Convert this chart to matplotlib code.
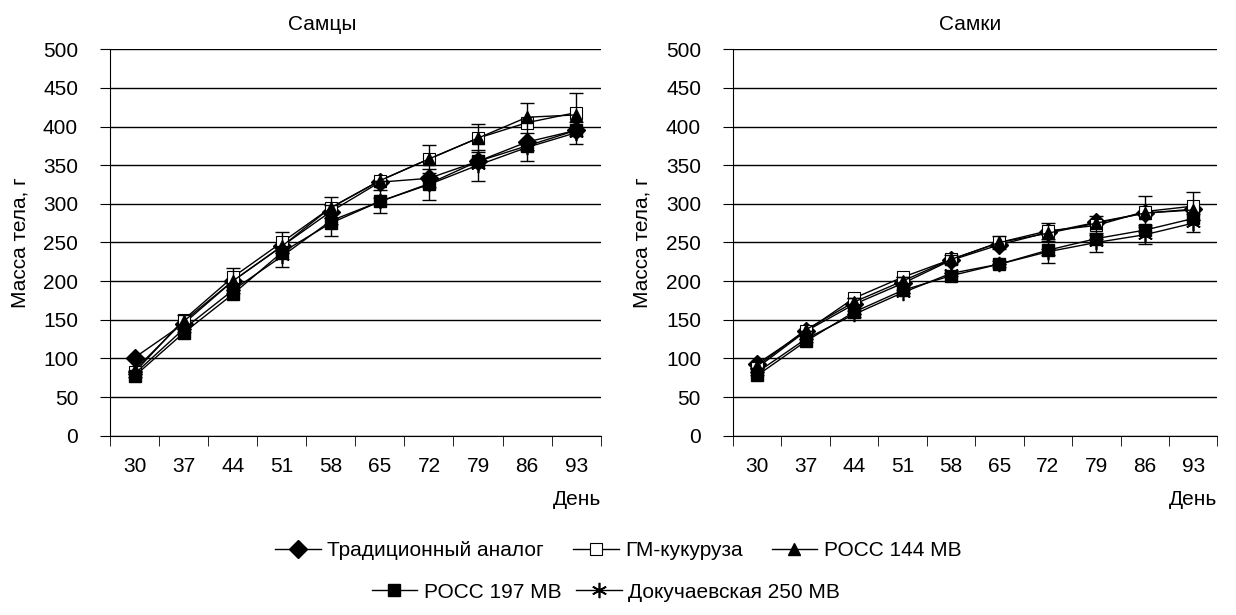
import matplotlib.pyplot as plt
from matplotlib.lines import Line2D

plt.rcParams['font.family'] = ['Liberation Sans', 'DejaVu Sans']

days = ['30', '37', '44', '51', '58', '65', '72', '79', '86', '93']
names = ['Традиционный аналог', 'ГМ-кукуруза', 'РОСС 144 МВ', 'РОСС 197 МВ', 'Докучаевская 250 МВ']

# самцы
m_trad = [101, 145, 200, 245, 290, 328, 333, 355, 380, 395]
m_gm = [82, 150, 205, 250, 295, 330, 358, 385, 405, 418]
m_r144 = [85, 148, 200, 245, 295, 330, 358, 385, 412, 415]
m_r197 = [77, 133, 183, 237, 275, 303, 326, 355, 375, 395]
m_dok = [80, 138, 188, 232, 278, 303, 325, 350, 373, 392]
m_err_gm = [0, 6, 12, 14, 14, 0, 18, 18, 25, 25]
m_err_dok = [0, 0, 0, 14, 20, 15, 20, 20, 18, 14]

# самки
f_trad = [93, 135, 170, 197, 227, 247, 263, 276, 288, 293]
f_gm = [88, 135, 178, 205, 228, 250, 265, 272, 290, 297]
f_r144 = [90, 137, 173, 200, 228, 250, 262, 275, 288, 292]
f_r197 = [78, 122, 160, 188, 207, 222, 240, 255, 266, 281]
f_dok = [82, 125, 157, 185, 210, 222, 238, 250, 260, 275]
f_err_gm = [0, 0, 0, 0, 6, 8, 10, 12, 20, 18]
f_err_dok = [0, 0, 0, 0, 0, 0, 14, 12, 12, 12]

styles = [
    dict(marker='D', ms=9, mfc='black', mec='black'),
    dict(marker='s', ms=9, mfc='white', mec='black', mew=0.8),
    dict(marker='^', ms=9, mfc='black', mec='black'),
    dict(marker='s', ms=9, mfc='black', mec='black'),
    dict(marker=(6, 2, 0), ms=11, mfc='black', mec='black', mew=1.2),
]

fig = plt.figure(figsize=(12.36, 6.15), dpi=100)
ax1 = fig.add_axes([0.089, 0.2915, 0.397, 0.6285])
ax2 = fig.add_axes([0.593, 0.2915, 0.392, 0.6285])

x = list(range(len(days)))


def draw(ax, series, errs, title, tx):
    for s, st in zip(series, styles):
        ax.plot(x, s, color='black', lw=1.0, **st)
    ax.errorbar(x, series[1], yerr=errs[0], fmt='none', ecolor='black', elinewidth=1, capsize=5)
    ax.errorbar(x, series[4], yerr=errs[1], fmt='none', ecolor='black', elinewidth=1, capsize=5)
    ax.set_xlim(-0.5, 9.5)
    ax.set_ylim(0, 500)
    ax.set_yticks(range(0, 501, 50))
    ax.yaxis.grid(True, color='black', lw=1.0)
    ax.set_axisbelow(True)
    ax.set_xticks(x)
    ax.set_xticklabels(days)
    ax.set_xticks([i - 0.5 for i in range(11)], minor=True)
    ax.tick_params(axis='x', which='major', length=0, pad=15, labelsize=15)
    ax.tick_params(axis='x', which='minor', length=7, direction='out')
    ax.tick_params(axis='y', length=7, direction='out', labelsize=15, pad=16)
    for sp in ['top', 'right']:
        ax.spines[sp].set_visible(False)
    ax.set_ylabel('Масса тела, г', fontsize=15, labelpad=10)
    ax.set_title(title, fontsize=15, x=tx, pad=14)
    ax.text(1.0, -0.14, 'День', transform=ax.transAxes, ha='right', va='top', fontsize=15)


draw(ax1, [m_trad, m_gm, m_r144, m_r197, m_dok], [m_err_gm, m_err_dok], 'Самцы', 0.432)
draw(ax2, [f_trad, f_gm, f_r144, f_r197, f_dok], [f_err_gm, f_err_dok], 'Самки', 0.49)

handles = [Line2D([], [], color='black', lw=1.0, **st) for st in styles]
fig.legend(handles[:3], names[:3], loc='center', bbox_to_anchor=(0.5, 0.105), ncol=3,
           frameon=False, fontsize=15, handlelength=2.2, handletextpad=0.3, columnspacing=1.4)
fig.legend(handles[3:], names[3:], loc='center', bbox_to_anchor=(0.49, 0.037), ncol=2,
           frameon=False, fontsize=15, handlelength=2.2, handletextpad=0.3, columnspacing=0.7)

fig.savefig('out.png', dpi=100)
